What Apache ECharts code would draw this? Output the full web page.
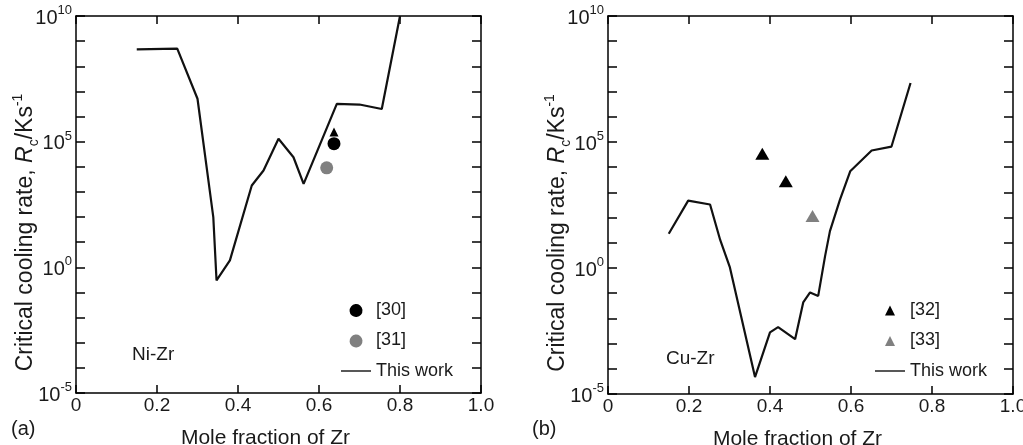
<!DOCTYPE html>
<html>
<head>
<meta charset="UTF-8">
<title>Critical cooling rate</title>
<script src="https://cdn.jsdelivr.net/npm/echarts@6/dist/echarts.min.js"></script>
<style>
  html, body { margin: 0; padding: 0; background: #fff; }
  #main { width: 1023px; height: 445px; }
</style>
</head>
<body>
<div id="main"></div>
<script type="text/javascript">
    // Ni-Zr, calculated curve (This work)
    var niZrX = [0.15, 0.25, 0.30, 0.339, 0.347, 0.38, 0.434, 0.463, 0.50, 0.537, 0.562, 0.644, 0.70, 0.755, 0.80];
    var niZrY = [4.7e8, 5e8, 5.1e6, 1e2, 0.3, 1.9, 1.8e3, 7.1e3, 1.3e5, 2.4e4, 2.1e3, 3.2e6, 3.0e6, 2.0e6, 1e10];
    // Ni-Zr, experimental
    var ref30X = [0.637];
    var ref30Y = [8.3e4];
    var ref30TriX = [0.637];
    var ref30TriY = [2.4e5];
    var ref31X = [0.619];
    var ref31Y = [9.1e3];

    // Cu-Zr, calculated curve (This work)
    var cuZrX = [0.15, 0.198, 0.252, 0.277, 0.301, 0.363, 0.40, 0.42, 0.462, 0.482, 0.499, 0.519, 0.536, 0.548, 0.573, 0.598, 0.651, 0.70, 0.747];
    var cuZrY = [23, 470, 330, 13, 1.05, 4.7e-5, 2.8e-3, 4.5e-3, 1.5e-3, 0.043, 0.107, 0.078, 2.95, 29, 525, 6.9e3, 4.6e4, 6.6e4, 2.2e7];
    // Cu-Zr, experimental
    var ref32X = [0.381, 0.439];
    var ref32Y = [3.4e4, 2.8e3];
    var ref33X = [0.505];
    var ref33Y = [115];

    var xTicks = [0, 0.2, 0.4, 0.6, 0.8, 1.0];
    var yLabelExp = [-5, 0, 5, 10];

    function pairs(xs, ys) {
        var out = [];
        for (var i = 0; i < xs.length; i++) out.push([xs[i], ys[i]]);
        return out;
    }

    var font = 'Liberation Sans, Arial, sans-serif';
    var ink = '#1a1a1a';

    // legend icons (moveTo points pad the box so keepAspect gives the right size)
    var iconLine = 'path://M0,0 M0,14 M0,6.3 L30,6.3 L30,7.7 L0,7.7 Z';
    var iconCircle = 'path://M0,0 M14,14 M13.5,7 A6.5,6.5 0 1 1 13.49,6.9 Z';
    var iconTri = 'path://M0,0 M14,14 M2,12.5 L7,2.5 L12,12.5 Z';

    function xAxisOf(idx, top) {
        return {
            type: 'value', gridIndex: idx, position: top ? 'top' : 'bottom',
            min: xTicks[0], max: xTicks[xTicks.length - 1], interval: 0.2,
            axisLine: { show: true, onZero: false, lineStyle: { color: '#000', width: 1.5 } },
            axisTick: { show: true, inside: true, length: 8, lineStyle: { color: '#000', width: 1.5 } },
            splitLine: { show: false },
            axisLabel: top ? { show: false } : {
                show: true, fontSize: 19, fontFamily: font, color: ink, margin: 3,
                formatter: function (v) { return v === 0 ? '0' : v.toFixed(1); }
            },
            name: top ? '' : 'Mole fraction of Zr',
            nameLocation: 'middle', nameGap: 35, nameMoveOverlap: false,
            nameTextStyle: { fontSize: 21, fontFamily: font, color: ink, padding: [0, 26, 0, 0] }
        };
    }

    function yAxisOf(idx, right) {
        return {
            type: 'log', logBase: 10, gridIndex: idx, position: right ? 'right' : 'left',
            min: 1e-5, max: 1e10, interval: 1, splitNumber: 15,
            axisLine: { show: true, onZero: false, lineStyle: { color: '#000', width: 1.5 } },
            axisTick: { show: true, inside: true, length: 9, lineStyle: { color: '#000', width: 1.5 } },
            splitLine: { show: false },
            axisLabel: right ? { show: false } : {
                show: true, margin: 4, fontFamily: font, color: ink,
                formatter: function (v) {
                    var e = Math.round(Math.log10(v));
                    if (yLabelExp.indexOf(e) < 0) return '';
                    return '{b|10}{s|' + e + '}';
                },
                rich: {
                    b: { fontSize: 20, fontFamily: font, color: ink, verticalAlign: 'bottom', lineHeight: 24 },
                    s: { fontSize: 13, fontFamily: font, color: ink, verticalAlign: 'top', lineHeight: 24 }
                }
            },
            name: right ? '' : 'Critical cooling rate, {i|R}{sub|c}/Ks{sup|-1}',
            nameLocation: 'middle', nameGap: 35, nameMoveOverlap: false,
            nameTextStyle: {
                fontSize: 23, fontFamily: font, color: ink, padding: [0, 56, 0, 0],
                rich: {
                    i: { fontSize: 23, fontFamily: font, fontStyle: 'italic', color: ink },
                    sub: { fontSize: 14, fontFamily: font, color: ink, verticalAlign: 'bottom', lineHeight: 30 },
                    sup: { fontSize: 14, fontFamily: font, color: ink, verticalAlign: 'top', lineHeight: 30 }
                }
            }
        };
    }

    function legendOf(left, names) {
        return {
            left: left, top: 301, orient: 'vertical', padding: 0,
            itemWidth: 30, itemHeight: 14, itemGap: 12.5,
            textStyle: { fontSize: 18, fontFamily: font, color: ink },
            data: names
        };
    }

    var myChart = echarts.init(document.getElementById('main'));

    var option = {
        backgroundColor: '#fff',
        animation: false,
        grid: [
            { left: 76, top: 16, width: 405, height: 377, outerBoundsMode: 'none', containLabel: false },
            { left: 608, top: 16, width: 405, height: 378, outerBoundsMode: 'none', containLabel: false }
        ],
        xAxis: [xAxisOf(0, false), xAxisOf(0, true), xAxisOf(1, false), xAxisOf(1, true)],
        yAxis: [yAxisOf(0, false), yAxisOf(0, true), yAxisOf(1, false), yAxisOf(1, true)],
        legend: [
            legendOf(341, [
                { name: '[30]', icon: iconCircle },
                { name: '[31]', icon: iconCircle },
                { name: 'This work', icon: iconLine }
            ]),
            legendOf(875, [
                { name: '[32]', icon: iconTri },
                { name: '[33]', icon: iconTri },
                { name: 'This work ', icon: iconLine }
            ])
        ],
        graphic: [
            { type: 'text', left: 132, top: 345, style: { text: 'Ni-Zr', fontSize: 19, fontFamily: font, fill: ink } },
            { type: 'text', left: 666, top: 349, style: { text: 'Cu-Zr', fontSize: 19, fontFamily: font, fill: ink } },
            { type: 'text', left: 11, top: 419, style: { text: '(a)', fontSize: 20, fontFamily: font, fill: ink } },
            { type: 'text', left: 532, top: 419, style: { text: '(b)', fontSize: 20, fontFamily: font, fill: ink } }
        ],
        series: [
            {
                name: 'This work', type: 'line', xAxisIndex: 0, yAxisIndex: 0,
                data: pairs(niZrX, niZrY), symbol: 'none',
                lineStyle: { color: '#111', width: 2.2 }, itemStyle: { color: '#111' }
            },
            {
                name: '[30]', type: 'scatter', xAxisIndex: 0, yAxisIndex: 0,
                data: pairs(ref30X, ref30Y), symbol: 'circle', symbolSize: 13,
                itemStyle: { color: '#000', opacity: 1 }
            },
            {
                name: 'ref30-tri', type: 'scatter', xAxisIndex: 0, yAxisIndex: 0,
                data: pairs(ref30TriX, ref30TriY), symbol: 'triangle', symbolSize: 9,
                itemStyle: { color: '#000', opacity: 1 }
            },
            {
                name: '[31]', type: 'scatter', xAxisIndex: 0, yAxisIndex: 0,
                data: pairs(ref31X, ref31Y), symbol: 'circle', symbolSize: 13,
                itemStyle: { color: '#808080', opacity: 1 }
            },
            {
                name: 'This work ', type: 'line', xAxisIndex: 2, yAxisIndex: 2,
                data: pairs(cuZrX, cuZrY), symbol: 'none',
                lineStyle: { color: '#111', width: 2.2 }, itemStyle: { color: '#111' }
            },
            {
                name: '[32]', type: 'scatter', xAxisIndex: 2, yAxisIndex: 2,
                data: pairs(ref32X, ref32Y), symbol: 'triangle', symbolSize: [14, 12],
                itemStyle: { color: '#000', opacity: 1 }
            },
            {
                name: '[33]', type: 'scatter', xAxisIndex: 2, yAxisIndex: 2,
                data: pairs(ref33X, ref33Y), symbol: 'triangle', symbolSize: [14, 12],
                itemStyle: { color: '#808080', opacity: 1 }
            }
        ]
    };

    myChart.setOption(option);
</script>
</body>
</html>
